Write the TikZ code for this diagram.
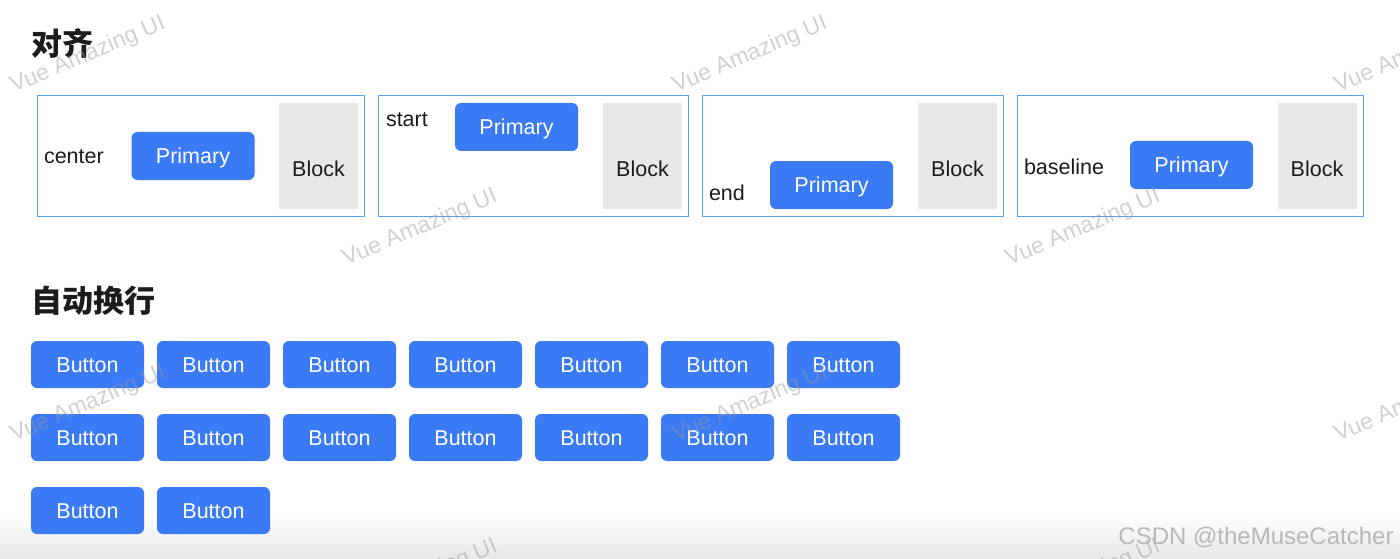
\documentclass[tikz,border=0pt]{standalone}
\usepackage{fontspec}
\setmainfont{Liberation Sans}
\newfontfamily\cjk{Noto Sans CJK SC}
\usetikzlibrary{positioning}

\definecolor{btnblue}{RGB}{58,122,244}
\definecolor{frameblue}{RGB}{92,158,240}
\definecolor{blockgray}{RGB}{232,232,232}
\definecolor{textdark}{RGB}{28,28,28}

\begin{document}
\begin{tikzpicture}[x=1pt,y=-1pt,
        every node/.style={inner sep=0pt, outer sep=0pt},
        ui/.style={font=\fontsize{21.5pt}{26pt}\selectfont, text=textdark},
        heading/.style={font=\cjk\bfseries\fontsize{31pt}{35pt}\selectfont, text=textdark, anchor=west},
        frame/.style={draw=frameblue, line width=1pt, anchor=north west},
        lbl/.style={ui, anchor=base west},
        primary/.style={ui, fill=btnblue, text=white, rounded corners=6pt,
            minimum width=123, minimum height=48, text height=15.4pt, text depth=0pt},
        btn/.style={ui, fill=btnblue, text=white, rounded corners=6pt,
            minimum width=113, minimum height=47, text height=15.4pt, text depth=0pt},
        block/.style={ui, fill=blockgray, minimum width=79, minimum height=106,
            text height=40pt, text depth=0pt},
        wmark/.style={font=\fontsize{23pt}{26pt}\selectfont, text=black!40, text opacity=0.45, rotate=23}]
        \useasboundingbox (0,0) rectangle (1400,559);
        \fill[white] (0,0) rectangle (1400,559);
        \shade[top color=white, bottom color=black!9] (0,512) rectangle (1400,559);

        \node[heading] (align) at (31,44) {对齐};
        \node[frame, minimum width=327, minimum height=120] (frame1) at (37,96) {};
        \node[frame, minimum width=310, minimum height=120] (frame2) at (378,96) {};
        \node[frame, minimum width=301, minimum height=120] (frame3) at (702,96) {};
        \node[frame, minimum width=346, minimum height=120] (frame4) at (1017,96) {};

        \node[lbl] (lcenter) at (44,164) {center};
        \node[primary] (p1) at (193,156) {Primary};
        \node[block] (blk1) at (318.5,156) {Block};

        \node[lbl] (lstart) at (386,127) {start};
        \node[primary] (p2) at (516.5,127) {Primary};
        \node[block] (blk2) at (642.5,156) {Block};

        \node[lbl] (lend) at (709,200) {end};
        \node[primary] (p3) at (831.5,185) {Primary};
        \node[block] (blk3) at (957.5,156) {Block};

        \node[lbl] (lbase) at (1024,175) {baseline};
        \node[primary] (p4) at (1191.5,165) {Primary};
        \node[block] (blk4) at (1317,156) {Block};

        \node[heading] (wrap) at (31,301) {自动换行};
        \foreach \r in {0,1}
            \foreach \c in {0,...,6}
                \node[btn] (b-\r-\c) at (87.5+126*\c, 364.5+73*\r) {Button};
        \foreach \c in {0,1}
            \node[btn] (b-2-\c) at (87.5+126*\c, 510.5) {Button};

        % watermarks on top
        \foreach \x/\y [count=\i] in {88/55, 750/55, 1412/55, 420/228, 1083/228,
                88/404, 750/404, 1412/404, 420/578, 1083/578}
            \node[wmark] (w\i) at (\x,\y) {Vue Amazing UI};
        \node[font=\fontsize{24pt}{28pt}\selectfont, text=black!28] (csdn) at (1256,537) {CSDN @theMuseCatcher};
    \end{tikzpicture}
\end{document}
